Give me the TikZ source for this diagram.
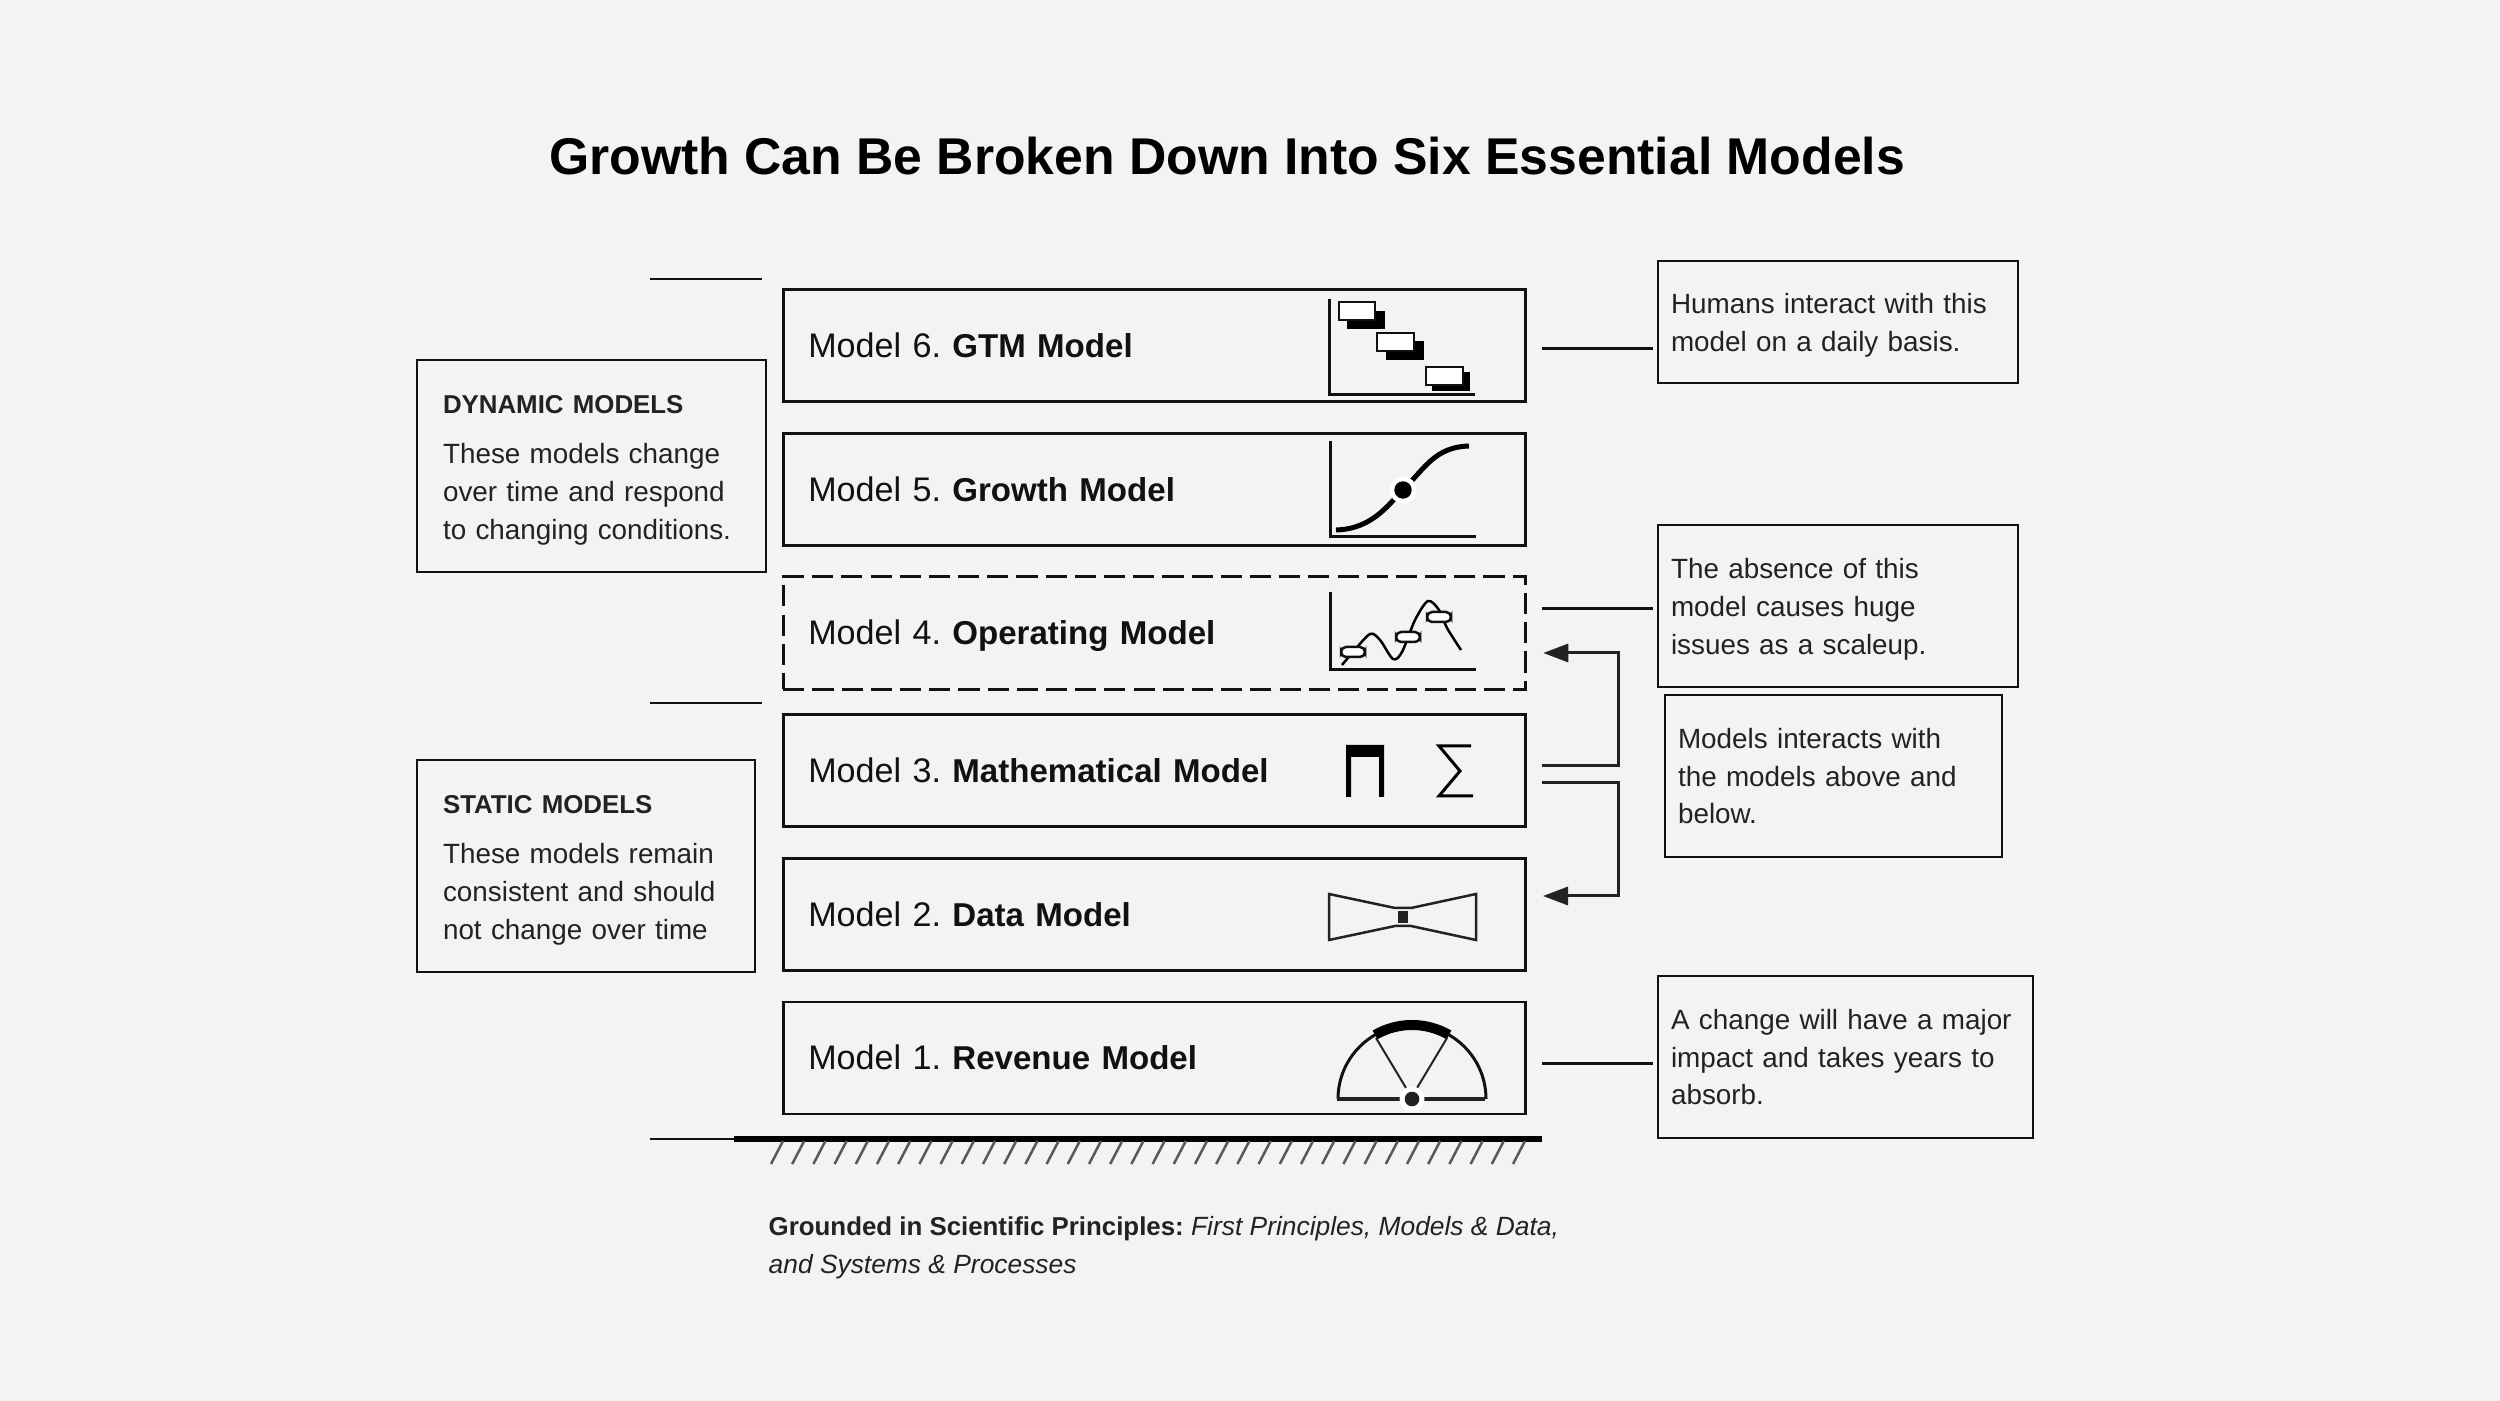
\documentclass[tikz,border=0pt]{standalone}
\usepackage{fontspec}
\setmainfont{Liberation Sans}
\usetikzlibrary{arrows.meta}
\definecolor{paper}{HTML}{F3F3F3}
\definecolor{ink}{HTML}{111111}
\definecolor{darkink}{HTML}{222222}
\newcommand{\boxhead}[1]{{\fontsize{7.35}{10.8}\selectfont\bfseries #1}}
\newcommand{\modelname}[1]{{\fontsize{9.4}{11}\selectfont\bfseries #1}}
\tikzset{
    modelbox/.style={draw=ink, line width=0.025cm, minimum width=7.42cm, minimum height=1.12cm, inner xsep=0.25cm, inner ysep=0pt, text width=6.92cm, text height=8.8pt, text depth=2pt, align=left, text=ink, font=\fontsize{9.7}{11}\selectfont\frenchspacing},
    notebox/.style={draw=ink, line width=0.025cm, outer sep=0pt, inner xsep=0.13cm, inner ysep=0pt, align=left, text=darkink, anchor=north west, font=\fontsize{7.92}{10.8}\selectfont\frenchspacing},
    sidebox/.style={notebox, inner xsep=0.26cm, lowtext=7.7pt},
    lowtext/.style={execute at begin node={\rule{0pt}{#1}}},
    noteline/.style={draw=ink, line width=0.03cm, shorten <=0.15cm, shorten >=0.05cm},
    linkarrow/.style={draw=darkink, line width=0.03cm, shorten <=0.15cm, shorten >=0.16cm, -{Triangle[length=0.25cm, width=0.18cm]}},
    axisline/.style={draw=ink, line width=0.03cm},
    pill/.style={draw=ink, fill=white, line width=0.025cm, rounded corners=0.05cm},
}
\begin{document}
\begin{tikzpicture}[x=0.01cm, y=-0.01cm]
    \useasboundingbox (0,0) rectangle (2500,1401);
    \fill[paper] (0,0) rectangle (2500,1401);

    \node[text=black, font=\fontsize{14.7}{18}\selectfont\bfseries] (title) at (1227,156) {Growth Can Be Broken Down Into Six Essential Models};

    \foreach \n/\ypos/\label in {6/345.5/GTM Model, 5/489.5/Growth Model, 3/770.5/Mathematical Model, 2/914.5/Data Model, 1/1058/Revenue Model} {
        \node[modelbox] (model\n) at (1154.5,\ypos) {Model \n. \modelname{\label}};
    }
    \node[modelbox, line width=0.03cm, dash pattern=on 6pt off 2.3pt] (model4) at (1154.5,633) {Model 4. \modelname{Operating Model}};

    \foreach \ypos in {279, 703, 1139} {
        \draw[ink, line width=0.025cm] (650,\ypos) -- (762,\ypos);
    }
    \draw[black, line width=0.055cm] (734,1139) -- (1542,1139);
    \foreach \i in {0,...,35} {
        \draw[black!65, line width=0.025cm] (783+\i*21.2,1141) -- (771+\i*21.2,1164);
    }

    \node[sidebox, text width=2.97cm, minimum height=2.12cm] (dynamic) at (417,360) {\boxhead{DYNAMIC MODELS}\\[3.4pt]These models change\\over time and respond\\to changing conditions.};
    \node[sidebox, text width=2.86cm, minimum height=2.12cm] (static) at (417,760) {\boxhead{STATIC MODELS}\\[3.4pt]These models remain\\consistent and should\\not change over time};

    \node[notebox, lowtext=7.6pt, text width=3.34cm, minimum height=1.22cm] (note6) at (1658,261) {Humans interact with this\\model on a daily basis.};
    \node[notebox, lowtext=7.6pt, text width=3.34cm, minimum height=1.62cm] (note4) at (1658,525) {The absence of this\\model causes huge\\issues as a scaleup.};
    \node[notebox, text width=3.11cm, minimum height=1.62cm] (note3) at (1665,695) {Models interacts with\\the models above and\\below.};
    \node[notebox, text width=3.49cm, minimum height=1.62cm] (note1) at (1658,976) {A change will have a major\\impact and takes years to\\absorb.};

    \coordinate (link6) at (0,349);
    \coordinate (link4) at (0,609);
    \coordinate (link1) at (0,1063);
    \draw[noteline] (model6.east |- link6) -- (note6.west |- link6);
    \draw[noteline] (model4.east |- link4) -- (note4.west |- link4);
    \draw[noteline] (model1.east |- link1) -- (note1.west |- link1);

    \coordinate (bendup) at (1618,653);
    \coordinate (benddown) at (1618,896);
    \coordinate (leaveup) at (1618,766);
    \coordinate (leavedown) at (1618,783);
    \draw[linkarrow] (model3.east |- leaveup) -- (leaveup) -- (bendup) -- (model4.east |- bendup);
    \draw[linkarrow] (model3.east |- leavedown) -- (leavedown) -- (benddown) -- (model2.east |- benddown);

    \node[anchor=north west, inner sep=0pt, align=left, text=darkink, font=\fontsize{7.5}{10.8}\selectfont\frenchspacing] (grounded) at (768,1216) {\boxhead{Grounded in Scientific Principles:} \textit{First Principles, Models \& Data,}\\\textit{and Systems \& Processes}};

    % gantt icon
    \draw[axisline] (1329,299) -- (1329,395) -- (1475,395);
    \foreach \xa/\ya/\xb/\yb/\xc/\yc/\xd/\yd in {1347/311/1385/329/1339/302/1375/320, 1386/341/1424/360/1377/333/1414/351, 1432/372/1470/391/1426/367/1463/385} {
        \fill[black] (\xa,\ya) rectangle (\xb,\yb);
        \draw[ink, fill=white, line width=0.025cm] (\xc,\yc) rectangle (\xd,\yd);
    }

    % growth icon
    \draw[axisline] (1330,441) -- (1330,537) -- (1476,537);
    \draw[black, line width=0.05cm] (1336,530) .. controls (1372,529) and (1388,505) .. (1403,490) .. controls (1425,468) and (1435,447) .. (1469,446);
    \fill[white] (1403,490) circle (0.135cm);
    \fill[black] (1403,490) circle (0.087cm);

    % operating icon
    \draw[axisline] (1330,592) -- (1330,670) -- (1476,670);
    \draw[black, line width=0.025cm] plot[smooth] coordinates {(1342,665) (1353,652) (1370,634) (1380,640) (1393,659) (1402,652) (1415,620) (1428,601) (1439,610) (1447,628) (1461,650)};
    \foreach \xa/\ya in {1353/652, 1408/637, 1439/617} {
        \draw[pill] (\xa-12,\ya-5) rectangle (\xa+12,\ya+5);
    }

    % mathematical icon
    \fill[black] (1346,745) -- (1384,745) -- (1384,797) -- (1379,797) -- (1379,757) -- (1351,757) -- (1351,797) -- (1346,797) -- cycle;
    \draw[black, line width=0.03cm] (1471,746) -- (1439,746) -- (1460,771) -- (1439,796) -- (1473,796);

    % data icon
    \draw[darkink, line width=0.025cm] (1329,894) -- (1395,908) -- (1411,908) -- (1476,894) -- (1476,940) -- (1411,926) -- (1395,926) -- (1329,940) -- cycle;
    \fill[darkink] (1398,911) rectangle (1408,923);

    % revenue icon
    \draw[ink, line width=0.03cm] (1338,1099) arc (180:360:74);
    \draw[black, line width=0.1cm] (1412,1099) ++(240:74) arc (240:300:74);
    \draw[darkink, line width=0.02cm] (1376,1038) -- (1406,1088);
    \draw[darkink, line width=0.02cm] (1447,1038) -- (1417,1088);
    \draw[darkink, line width=0.04cm] (1337,1099) -- (1485,1099);
    \fill[white] (1412,1099) circle (0.125cm);
    \fill[darkink] (1412,1099) circle (0.073cm);
\end{tikzpicture}
\end{document}
